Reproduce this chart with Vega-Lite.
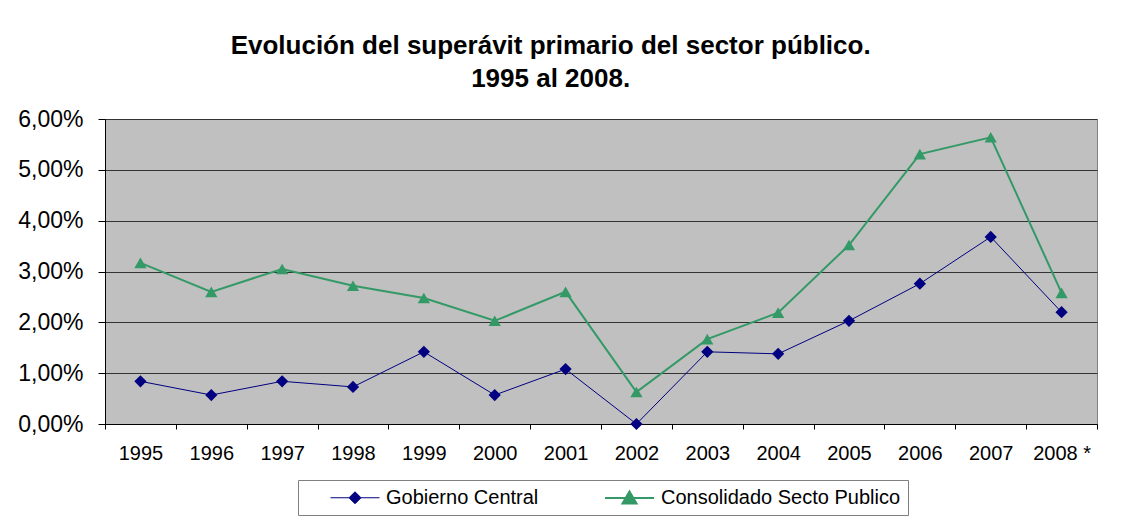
{
  "$schema": "https://vega.github.io/schema/vega-lite/v6.json",
  "width": 992,
  "height": 305,
  "autosize": {"type": "none"},
  "padding": {"left": 105, "top": 119, "right": 25, "bottom": 93},
  "background": "white",
  "title": {
    "text": ["Evolución del superávit primario del sector público.", "1995 al 2008."],
    "fontSize": 26,
    "font": "Liberation Sans",
    "fontWeight": "bold",
    "anchor": "middle",
    "frame": "bounds",
    "lineHeight": 33,
    "offset": 16,
    "dx": -7,
    "color": "black"
  },
  "config": {
    "locale": {"number": {"decimal": ",", "thousands": ".", "grouping": [3], "currency": ["", " €"]}},
    "view": {"stroke": "#808080", "fill": "#C0C0C0", "strokeWidth": 1},
    "font": "Liberation Sans",
    "legend": {
      "orient": "none",
      "legendX": 193,
      "legendY": 361,
      "direction": "horizontal",
      "strokeColor": "#808080",
      "fillColor": "white",
      "padding": 7,
      "labelFontSize": 20,
      "labelColor": "black",
      "labelLimit": 500,
      "symbolSize": 400,
      "symbolOffset": 39.5,
      "labelOffset": 20.5,
      "columnPadding": 40,
      "symbolOpacity": 1,
      "symbolFillColor": "#000080",
      "symbolStrokeColor": "#000080"
    }
  },
  "data": {
    "values": [
      {"year": "1995", "series": "Gobierno Central", "value": 0.0084},
      {"year": "1996", "series": "Gobierno Central", "value": 0.0057},
      {"year": "1997", "series": "Gobierno Central", "value": 0.0084},
      {"year": "1998", "series": "Gobierno Central", "value": 0.0073},
      {"year": "1999", "series": "Gobierno Central", "value": 0.0142},
      {"year": "2000", "series": "Gobierno Central", "value": 0.0057},
      {"year": "2001", "series": "Gobierno Central", "value": 0.0108},
      {"year": "2002", "series": "Gobierno Central", "value": 0.0},
      {"year": "2003", "series": "Gobierno Central", "value": 0.0142},
      {"year": "2004", "series": "Gobierno Central", "value": 0.0138},
      {"year": "2005", "series": "Gobierno Central", "value": 0.0203},
      {"year": "2006", "series": "Gobierno Central", "value": 0.0276},
      {"year": "2007", "series": "Gobierno Central", "value": 0.0368},
      {"year": "2008 *", "series": "Gobierno Central", "value": 0.0220},
      {"year": "1995", "series": "Consolidado Secto Publico", "value": 0.0317},
      {"year": "1996", "series": "Consolidado Secto Publico", "value": 0.0260},
      {"year": "1997", "series": "Consolidado Secto Publico", "value": 0.0305},
      {"year": "1998", "series": "Consolidado Secto Publico", "value": 0.0272},
      {"year": "1999", "series": "Consolidado Secto Publico", "value": 0.0248},
      {"year": "2000", "series": "Consolidado Secto Publico", "value": 0.0203},
      {"year": "2001", "series": "Consolidado Secto Publico", "value": 0.0260},
      {"year": "2002", "series": "Consolidado Secto Publico", "value": 0.0063},
      {"year": "2003", "series": "Consolidado Secto Publico", "value": 0.0167},
      {"year": "2004", "series": "Consolidado Secto Publico", "value": 0.0219},
      {"year": "2005", "series": "Consolidado Secto Publico", "value": 0.0352},
      {"year": "2006", "series": "Consolidado Secto Publico", "value": 0.0531},
      {"year": "2007", "series": "Consolidado Secto Publico", "value": 0.0564},
      {"year": "2008 *", "series": "Consolidado Secto Publico", "value": 0.0258}
    ]
  },
  "encoding": {
    "x": {
      "field": "year",
      "type": "ordinal",
      "sort": null,
      "scale": {"type": "band", "paddingInner": 0, "paddingOuter": 0},
      "axis": {
        "title": null,
        "labelAngle": 0,
        "labelFontSize": 20,
        "labelColor": "black",
        "tickBand": "extent",
        "tickSize": 5,
        "tickColor": "black",
        "domainColor": "black",
        "labelPadding": 14,
        "grid": false
      }
    },
    "y": {
      "field": "value",
      "type": "quantitative",
      "scale": {"domain": [0, 0.06], "nice": false},
      "axis": {
        "title": null,
        "format": ".2%",
        "values": [0, 0.01, 0.02, 0.03, 0.04, 0.05, 0.06],
        "labelFontSize": 23,
        "labelColor": "black",
        "labelPadding": 15,
        "tickSize": 7,
        "tickColor": "black",
        "domainColor": "black",
        "grid": true,
        "gridColor": "#333333",
        "gridOpacity": 1
      }
    }
  },
  "resolve": {"scale": {"shape": "independent", "strokeWidth": "independent", "fill": "independent", "stroke": "independent"}},
  "layer": [
    {
      "mark": {"type": "line"},
      "encoding": {
        "color": {
          "field": "series",
          "type": "nominal",
          "scale": {"domain": ["Gobierno Central", "Consolidado Secto Publico"], "range": ["#000080", "#339966"]},
          "legend": null
        },
        "strokeWidth": {
          "field": "series",
          "type": "nominal",
          "scale": {"domain": ["Gobierno Central", "Consolidado Secto Publico"], "range": [1, 2]},
          "legend": null
        }
      }
    },
    {
      "mark": {"type": "point", "filled": true, "opacity": 1, "size": 150},
      "encoding": {
        "color": {
          "field": "series",
          "type": "nominal",
          "scale": {"domain": ["Gobierno Central", "Consolidado Secto Publico"], "range": ["#000080", "#339966"]},
          "legend": null
        },
        "shape": {
          "field": "series",
          "type": "nominal",
          "scale": {"domain": ["Gobierno Central", "Consolidado Secto Publico"], "range": ["diamond", "triangle-up"]},
          "legend": null
        }
      }
    },
    {
      "transform": [{"filter": "datum.value < 0"}],
      "mark": {"type": "point", "filled": true, "opacity": 1},
      "encoding": {
        "fill": {
          "field": "series",
          "type": "nominal",
          "scale": {"domain": ["Gobierno Central", "Consolidado Secto Publico"], "range": ["#000080", "#339966"]},
          "legend": {"title": null}
        },
        "stroke": {
          "field": "series",
          "type": "nominal",
          "scale": {"domain": ["Gobierno Central", "Consolidado Secto Publico"], "range": ["#000080", "#339966"]},
          "legend": {"title": null}
        },
        "shape": {
          "field": "series",
          "type": "nominal",
          "scale": {
            "domain": ["Gobierno Central", "Consolidado Secto Publico"],
            "range": ["M-2.45,0L-0.6,0M0,-0.6L0.6,0L0,0.6L-0.6,0ZM0.6,0L2.45,0", "M-2.45,0L2.45,0M0,-0.65L0.7,0.55L-0.7,0.55Z"]
          },
          "legend": {"title": null}
        },
        "strokeWidth": {
          "field": "series",
          "type": "nominal",
          "scale": {"domain": ["Gobierno Central", "Consolidado Secto Publico"], "range": [1, 2]},
          "legend": {"title": null}
        }
      }
    }
  ]
}
